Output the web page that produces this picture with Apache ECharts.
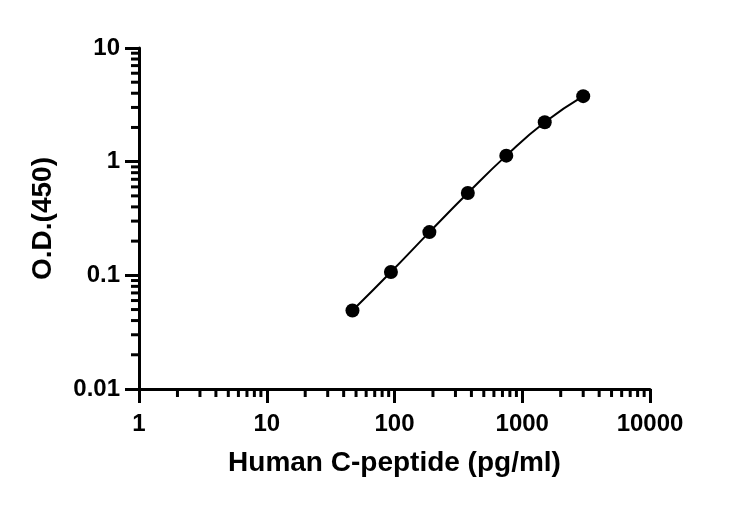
<!DOCTYPE html>
<html>
<head>
<meta charset="utf-8">
<script src="https://cdn.jsdelivr.net/npm/echarts@6/dist/echarts.min.js"></script>
<style>
  html, body { margin: 0; padding: 0; background: #fff; }
  #chart { width: 732px; height: 507px; }
</style>
</head>
<body>
<div id="chart"></div>
<script>
// standard curve points
var concentration = [46.875, 93.75, 187.5, 375, 750, 1500, 3000];
var od450 = [0.049, 0.107, 0.24, 0.53, 1.13, 2.22, 3.77];

// minor tick positions on the log axes
var xMinorTicks = [2, 3, 4, 5, 6, 7, 8, 9, 20, 30, 40, 50, 60, 70, 80, 90,
    200, 300, 400, 500, 600, 700, 800, 900, 2000, 3000, 4000, 5000, 6000, 7000, 8000, 9000];
var yMinorTicks = [0.02, 0.03, 0.04, 0.05, 0.06, 0.07, 0.08, 0.09,
    0.2, 0.3, 0.4, 0.5, 0.6, 0.7, 0.8, 0.9, 2, 3, 4, 5, 6, 7, 8, 9];

var FONT = '"Liberation Sans", Arial, sans-serif';

var myChart = echarts.init(document.getElementById('chart'));

function fmt(v) {
    return String(+v.toPrecision(6));
}

var option = {
    animation: false,
    backgroundColor: '#fff',
    grid: {left: 139, right: 82, top: 48, bottom: 118},
    xAxis: {
        type: 'log',
        logBase: 10,
        min: 1,
        max: 10000,
        name: 'Human C-peptide (pg/ml)',
        nameLocation: 'middle',
        nameGap: 60,
        nameTextStyle: {fontFamily: FONT, fontSize: 28, fontWeight: 'bold', color: '#000'},
        axisLine: {lineStyle: {color: '#000', width: 3}},
        axisTick: {show: true, inside: false, length: 14, lineStyle: {color: '#000', width: 3}},
        axisLabel: {fontFamily: FONT, fontSize: 24, fontWeight: 'bold', color: '#000', margin: 23, formatter: fmt},
        splitLine: {show: false}
    },
    yAxis: {
        type: 'log',
        logBase: 10,
        min: 0.01,
        max: 10,
        name: 'O.D.(450)',
        nameLocation: 'middle',
        nameGap: 82,
        nameTextStyle: {fontFamily: FONT, fontSize: 28, fontWeight: 'bold', color: '#000'},
        axisLine: {show: true, lineStyle: {color: '#000', width: 3}},
        axisTick: {show: true, inside: false, length: 14, lineStyle: {color: '#000', width: 3}},
        axisLabel: {fontFamily: FONT, fontSize: 24, fontWeight: 'bold', color: '#000', margin: 19, formatter: fmt},
        splitLine: {show: false}
    },
    series: [
        {
            type: 'custom',
            silent: true,
            clip: false,
            data: xMinorTicks.map(function (v) { return [v, 0.01]; }),
            renderItem: function (params, api) {
                var p = api.coord([api.value(0), api.value(1)]);
                return {
                    type: 'line',
                    shape: {x1: p[0], y1: p[1], x2: p[0], y2: p[1] + 8},
                    style: {stroke: '#000', lineWidth: 3}
                };
            }
        },
        {
            type: 'custom',
            silent: true,
            clip: false,
            data: yMinorTicks.map(function (v) { return [1, v]; }),
            renderItem: function (params, api) {
                var p = api.coord([api.value(0), api.value(1)]);
                return {
                    type: 'line',
                    shape: {x1: p[0], y1: p[1], x2: p[0] - 8, y2: p[1]},
                    style: {stroke: '#000', lineWidth: 3}
                };
            }
        },
        {
            name: 'C-peptide',
            type: 'line',
            smooth: true,
            symbol: 'circle',
            symbolSize: 14,
            itemStyle: {color: '#000'},
            lineStyle: {color: '#000', width: 2},
            data: concentration.map(function (c, i) { return [c, od450[i]]; })
        }
    ]
};

myChart.setOption(option);
</script>
</body>
</html>
